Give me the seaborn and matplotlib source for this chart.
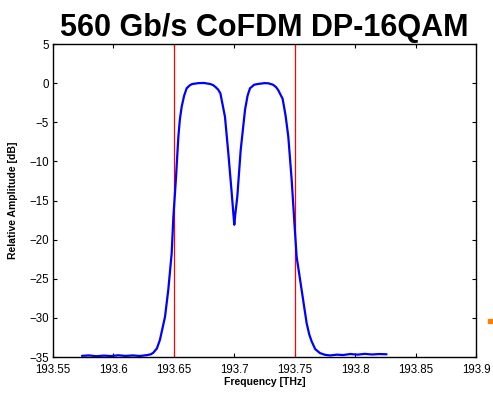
import matplotlib
matplotlib.use("Agg")
import matplotlib.pyplot as plt
import seaborn as sns
import pandas as pd
from matplotlib.ticker import FuncFormatter

# ---- data ----
freq_thz = [193.574, 193.580, 193.586, 193.592, 193.598, 193.604, 193.610, 193.616,
            193.622, 193.628, 193.631, 193.633, 193.636, 193.6385, 193.6405, 193.6427,
            193.6454, 193.6482, 193.6496, 193.6518, 193.6537, 193.655, 193.6565, 193.6585,
            193.6606, 193.663, 193.665, 193.6702, 193.675, 193.680, 193.6825, 193.6845,
            193.6865, 193.6885, 193.6923, 193.6951, 193.6979, 193.6992, 193.700, 193.7008,
            193.7025, 193.7053, 193.7089, 193.711, 193.713, 193.7165, 193.7199, 193.725,
            193.7282, 193.732, 193.7345, 193.7364, 193.740, 193.7425, 193.7447, 193.7475,
            193.7496, 193.7516, 193.7557, 193.7599, 193.762, 193.764, 193.767, 193.7709,
            193.775, 193.7792, 193.785, 193.790, 193.796, 193.802, 193.808, 193.814,
            193.820, 193.826]
amp_db = [-34.85, -34.80, -34.90, -34.82, -34.88, -34.78, -34.86, -34.80,
          -34.87, -34.75, -34.65, -34.45, -33.9, -32.8, -31.4, -29.85,
          -26.4, -21.75, -17.1, -12.0, -6.9, -4.6, -3.0, -1.6,
          -0.66, -0.3, -0.12, 0.0, 0.02, -0.11, -0.25, -0.5,
          -0.8, -1.3, -4.3, -9.0, -14.1, -16.6, -18.1, -16.8,
          -14.5, -8.55, -3.4, -1.6, -0.66, -0.2, -0.1, 0.0,
          -0.02, -0.2, -0.5, -0.9, -2.0, -4.2, -6.85, -12.4,
          -17.5, -22.2, -26.4, -30.7, -32.1, -33.0, -34.0, -34.5,
          -34.72, -34.8, -34.7, -34.75, -34.62, -34.7, -34.6, -34.68,
          -34.62, -34.65]
band_edges_thz = [193.65, 193.75]
stray_point = (193.9116, -30.4)
x_ticks = [193.55, 193.6, 193.65, 193.7, 193.75, 193.8, 193.85, 193.9]
y_ticks = [-35, -30, -25, -20, -15, -10, -5, 0, 5]
title = "560 Gb/s CoFDM DP-16QAM"

df = pd.DataFrame({"freq": freq_thz, "amp": amp_db})

sns.set_style("ticks")
plt.rcParams['font.family'] = ['Liberation Sans', 'DejaVu Sans']
plt.rcParams['text.color'] = 'black'
plt.rcParams['axes.labelcolor'] = 'black'
plt.rcParams['xtick.color'] = 'black'
plt.rcParams['ytick.color'] = 'black'

fig = plt.figure(figsize=(4.93, 3.93), dpi=100)
ax = fig.add_axes([0.1075, 0.0916, 0.858, 0.7964])

sns.lineplot(data=df, x="freq", y="amp", ax=ax, color="#0000ff", linewidth=1.6,
             sort=False, estimator=None)
for xe in band_edges_thz:
    ax.axvline(xe, color="#ff0000", linewidth=0.9, zorder=1)

ax.plot([stray_point[0]], [stray_point[1]], marker="s", markersize=3.5,
        color="#ff8000", linestyle="none", clip_on=False)

ax.set_xlim(193.55, 193.9)
ax.set_ylim(-35, 5)
ax.set_xticks(x_ticks)
ax.set_yticks(y_ticks)
ax.xaxis.set_major_formatter(FuncFormatter(lambda v, p: f"{v:g}"))
ax.tick_params(direction="in", top=True, right=True, length=3, width=0.8,
               labelsize=8.3, colors="black")
ax.tick_params(axis="x", pad=5)
ax.tick_params(axis="y", pad=3)
for s in ax.spines.values():
    s.set_visible(True)
    s.set_color("black")
    s.set_linewidth(1.0)

ax.set_xlabel("Frequency [THz]", fontsize=7.5, fontweight="bold", labelpad=1,
              color="black")
ax.set_ylabel("Relative Amplitude [dB]", fontsize=7.5, fontweight="bold", labelpad=8,
              color="black")
ax.set_title(title, fontsize=22, fontweight="bold", pad=6, color="black")

fig.savefig("out.png", dpi=100)
